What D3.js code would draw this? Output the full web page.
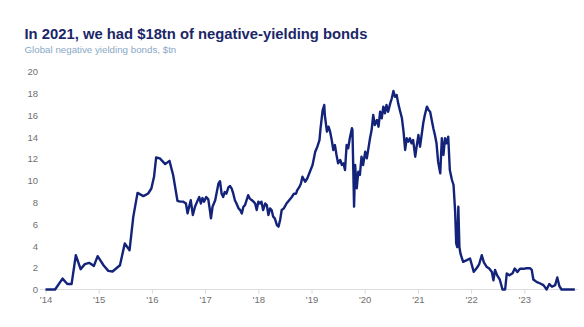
<!DOCTYPE html>
<html><head><meta charset="utf-8">
<script src="https://cdn.jsdelivr.net/npm/d3@7"></script>
<style>body{margin:0;background:#fff}svg{display:block}</style>
</head><body>
<script>
const title = "In 2021, we had $18tn of negative-yielding bonds";
const subtitle = "Global negative yielding bonds, $tn";
// decimal year
const dates = [
2014.00,2014.18,2014.32,2014.41,2014.49,2014.57,2014.66,2014.74,2014.82,2014.91,
2014.98,2015.09,2015.18,2015.26,2015.40,2015.49,2015.58,2015.65,2015.73,2015.84,
2015.93,2015.99,2016.04,2016.08,2016.15,2016.25,2016.33,2016.40,2016.48,
2016.53,2016.59,2016.64,2016.67,2016.70,2016.73,2016.77,2016.81,2016.85,2016.89,
2016.92,2016.95,2016.98,2017.02,2017.06,2017.09,2017.11,2017.14,2017.19,2017.22,
2017.25,2017.28,2017.31,2017.34,2017.37,2017.40,2017.44,2017.47,2017.50,2017.53,
2017.56,2017.59,2017.63,2017.66,2017.69,2017.72,2017.75,2017.78,2017.81,2017.84,
2017.88,2017.91,2017.94,2017.97,2018.00,2018.03,2018.06,2018.09,2018.13,2018.16,
2018.19,2018.22,2018.25,2018.28,2018.31,2018.35,2018.38,2018.41,2018.44,2018.48,
2018.53,2018.58,2018.63,2018.67,2018.71,2018.73,2018.77,2018.80,2018.83,2018.88,
2018.92,2018.97,2019.02,2019.07,2019.11,2019.15,2019.17,2019.21,2019.24,2019.25,
2019.29,2019.32,2019.35,2019.38,2019.41,2019.44,2019.47,2019.50,2019.54,2019.57,
2019.60,2019.63,2019.66,2019.69,2019.72,2019.76,2019.77,2019.80,2019.82,2019.85,
2019.88,2019.91,2019.94,2019.97,2020.01,2020.04,2020.07,2020.10,2020.13,2020.16,
2020.19,2020.23,2020.26,2020.29,2020.32,2020.35,2020.38,2020.41,2020.44,2020.48,
2020.51,2020.54,2020.57,2020.60,2020.63,2020.66,2020.70,2020.73,2020.76,2020.79,
2020.82,2020.85,2020.88,2020.91,2020.95,2020.98,2021.01,2021.04,2021.07,2021.10,
2021.13,2021.17,2021.20,2021.23,2021.26,2021.29,2021.32,2021.35,2021.38,2021.42,
2021.45,2021.48,2021.51,2021.54,2021.57,2021.60,2021.64,2021.67,2021.70,
2021.72,2021.74,2021.76,2021.78,2021.80,2021.85,2021.92,2021.98,2022.05,2022.11,
2022.15,2022.20,2022.24,2022.29,2022.34,2022.39,2022.42,2022.45,2022.49,2022.54,
2022.59,2022.64,2022.67,2022.72,2022.78,2022.82,2022.87,2022.92,2022.98,2023.04,
2023.11,2023.14,2023.17,2023.23,2023.30,2023.36,2023.42,2023.47,2023.52,2023.58,
2023.62,2023.66,2023.70,2023.95];
const values = [
0,0,1.0,0.5,0.5,3.15,1.87,2.33,2.45,2.17,
3.06,2.23,1.71,1.65,2.23,4.23,3.61,6.67,8.88,8.58,
8.82,9.28,10.35,12.13,12.04,11.52,11.82,10.5,8.15,
8.07,8.07,7.9,6.99,7.6,8.2,6.84,7.6,8.07,8.5,
7.9,8.4,8.07,8.5,8.28,7.3,6.54,7.6,8.2,8.96,
9.72,9.95,8.8,8.5,8.96,8.8,9.4,9.5,9.26,8.8,
8.2,7.9,7.45,7.3,6.99,7.6,7.75,8.2,8.66,8.35,
8.2,8.07,7.9,7.3,8.07,7.9,8.07,7.3,7.9,7.75,
6.84,7.45,7.3,6.69,6.54,5.92,5.77,6.38,7.3,7.45,
7.9,8.2,8.5,8.8,8.8,9.1,9.4,9.72,10.36,9.9,
10.2,10.82,11.44,12.66,13.12,13.73,14.81,16.49,16.95,16.03,
14.5,14.96,14.5,13.73,12.82,13.27,12.36,11.59,11.9,11.44,
11.59,10.98,13.27,12.97,13.89,14.81,14.66,7.61,11.44,9.3,
10.82,10.52,12.2,11.44,12.66,12.05,12.97,13.89,14.65,16.03,
15.11,15.57,14.96,16.33,15.73,16.8,16.19,16.95,16.33,17.1,
17.57,18.24,17.71,17.87,17.1,16.49,15.73,14.5,12.82,13.89,
13.58,13.89,13.43,13.73,12.2,13.27,14.19,13.12,14.19,15.27,
16.03,16.8,16.49,16.33,15.57,14.81,14.19,13.43,11.74,10.67,
13.89,12.36,13.89,13.43,14.04,10.98,10.06,9.6,7.15,
4.23,3.9,7.6,3.9,3.3,2.54,2.7,2.85,1.62,2.0,
2.3,3.15,2.5,2.1,1.93,1.6,0.85,1.8,1.3,0.9,
0,0,1.47,1.3,1.5,1.93,1.6,1.9,1.9,1.95,
1.95,1.8,0.92,0.7,0.55,0.4,0,0.5,0.25,0.4,
1.1,0.3,0,0];
const yearTicks = [2014,2015,2016,2017,2018,2019,2020,2021,2022,2023];
const yTicks = [0,2,4,6,8,10,12,14,16,18,20];

const W = 584, H = 327;
const svg = d3.select("body").append("svg").attr("width", W).attr("height", H);

const x = d3.scaleLinear().domain([2014, 2024]).range([45.5, 577.5]);
const y = d3.scaleLinear().domain([0, 20]).range([289.5, 71.8]);

function fitText(sel, targetW) {
  const w = sel.node().getComputedTextLength();
  const fs = parseFloat(sel.attr("font-size"));
  sel.attr("font-size", (fs * targetW / w).toFixed(2));
}

const t = svg.append("text").attr("x", 24.5).attr("y", 38.5)
  .attr("font-family", "Liberation Sans, Arial, sans-serif").attr("font-weight", "bold")
  .attr("font-size", 16).attr("fill", "#1b2768").text(title);
fitText(t, 343);
const st = svg.append("text").attr("x", 24.5).attr("y", 52.5)
  .attr("font-family", "Liberation Sans, Arial, sans-serif")
  .attr("font-size", 11).attr("fill", "#8aa8c6").text(subtitle);
fitText(st, 152);

// baseline
svg.append("line").attr("x1", 40).attr("x2", 578).attr("y1", y(0)).attr("y2", y(0))
  .attr("stroke", "#dcdcdc").attr("stroke-width", 1);

// x axis
const xAxis = d3.axisBottom(x).tickValues(yearTicks)
  .tickFormat(d => "'" + String(d).slice(2)).tickSize(4).tickPadding(3);
const gx = svg.append("g").attr("transform", `translate(0,${y(0)})`).call(xAxis);
gx.select(".domain").remove();
gx.selectAll(".tick line").attr("stroke", "#d8d8d8");
gx.selectAll("text").attr("font-family", "Liberation Sans, Arial, sans-serif")
  .attr("font-size", 9.5).attr("fill", "#707070");

// y axis
const yAxis = d3.axisLeft(y).tickValues(yTicks).tickSize(0).tickPadding(0);
const gy = svg.append("g").attr("transform", "translate(38,0)").call(yAxis);
gy.select(".domain").remove();
gy.selectAll("text").attr("font-family", "Liberation Sans, Arial, sans-serif")
  .attr("font-size", 9.5).attr("fill", "#707070");

const n = Math.min(dates.length, values.length);
const data = d3.range(n).map(i => ({ t: dates[i], v: values[i] }));
const line = d3.line().x(d => x(d.t)).y(d => y(d.v));
svg.append("path").datum(data).attr("d", line)
  .attr("fill", "none").attr("stroke", "#13237a").attr("stroke-width", 2.4)
  .attr("stroke-linejoin", "round");
</script>
</body></html>
